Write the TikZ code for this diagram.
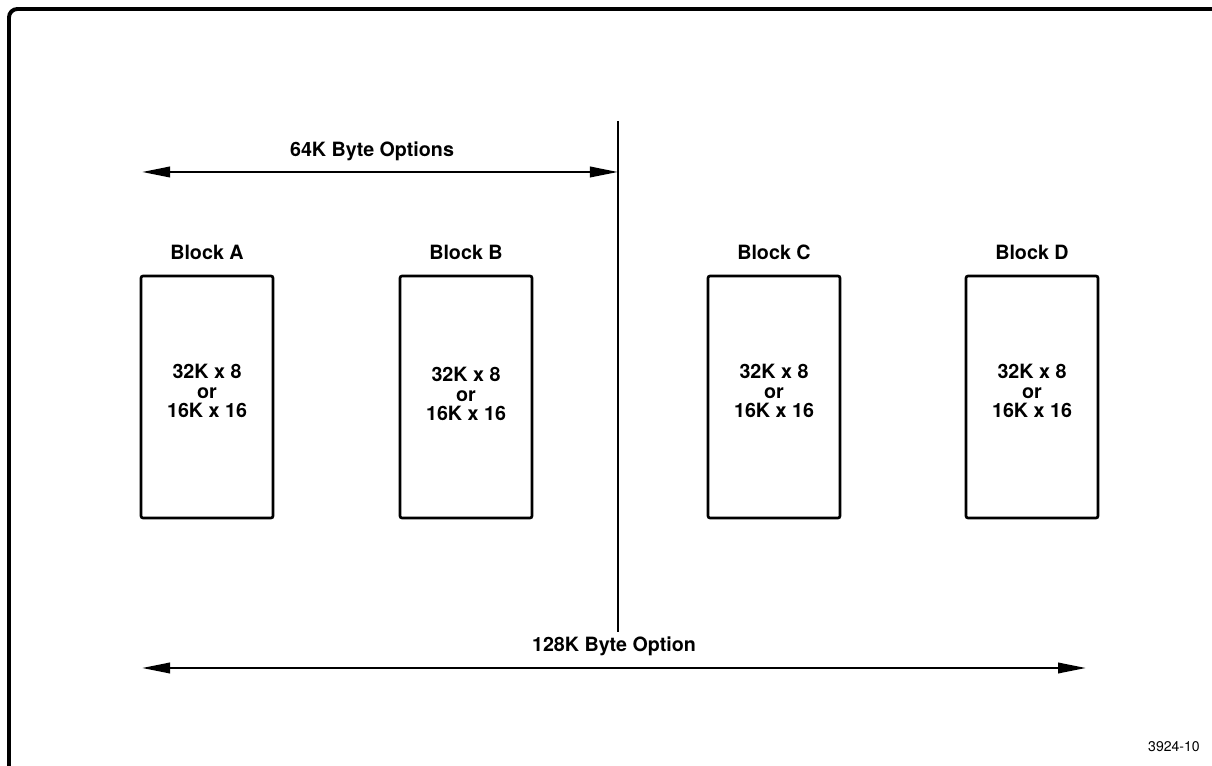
\documentclass[tikz,border=0pt]{standalone}
\usepackage{fontspec}
\setmainfont{TeX Gyre Heros}
\usetikzlibrary{arrows.meta}

\begin{document}
\begin{tikzpicture}[x=0.025cm, y=-0.025cm,
  blockbox/.style={draw, line width=1.9pt, rounded corners=1.5pt, minimum width=3.3cm, minimum height=6.05cm, inner sep=0pt},
  blocklabel/.style={font=\fontsize{14}{14}\selectfont\bfseries},
  memtext/.style={font=\fontsize{14}{13.9}\selectfont\bfseries, align=center},
  dimarrow/.style={line width=1.7pt, {Triangle[length=0.7cm, width=0.26cm]}-{Triangle[length=0.7cm, width=0.26cm]}}]

\useasboundingbox (0,0) rectangle (1212,766);

% ---- FRAME ----
\draw[line width=2.8pt, rounded corners=6pt] (1214,9) -- (9,9) -- (9,768);

% ---- DIVIDER ----
\coordinate (divtop) at (618,121);
\coordinate (divbot) at (618,632);
\draw[line width=1.2pt] (divtop) -- (divbot);

% ---- 64K ARROW ----
\coordinate (opt64l) at (142,172);
\coordinate (opt64r) at (618,172);
\draw[dimarrow] (opt64l) -- (opt64r);
\node[blocklabel, anchor=base] (lbl64) at (372,157) {64K Byte Options};

% ---- BLOCKS ----
\node[blockbox] (blkA) at (207,397) {};
\node[blocklabel] (lblA) at (207,252) {Block A};
\node[memtext] (memA) at (207,391) {32K x 8\\or\\16K x 16};

\node[blockbox] (blkB) at (466,397) {};
\node[blocklabel] (lblB) at (466,252) {Block B};
\node[memtext] (memB) at (466,394) {32K x 8\\or\\16K x 16};

\node[blockbox] (blkC) at (774,397) {};
\node[blocklabel] (lblC) at (774,252) {Block C};
\node[memtext] (memC) at (774,391) {32K x 8\\or\\16K x 16};

\node[blockbox] (blkD) at (1032,397) {};
\node[blocklabel] (lblD) at (1032,252) {Block D};
\node[memtext] (memD) at (1032,391) {32K x 8\\or\\16K x 16};

% ---- 128K ARROW ----
\coordinate (opt128l) at (142,668);
\coordinate (opt128r) at (1086,668);
\draw[dimarrow] (opt128l) -- (opt128r);
\node[blocklabel, anchor=base] (lbl128) at (614,652) {128K Byte Option};

% Figure number
\node[font=\fontsize{10}{10}\selectfont, anchor=base] (fignum) at (1174,752) {3924-10};

\end{tikzpicture}
\end{document}
